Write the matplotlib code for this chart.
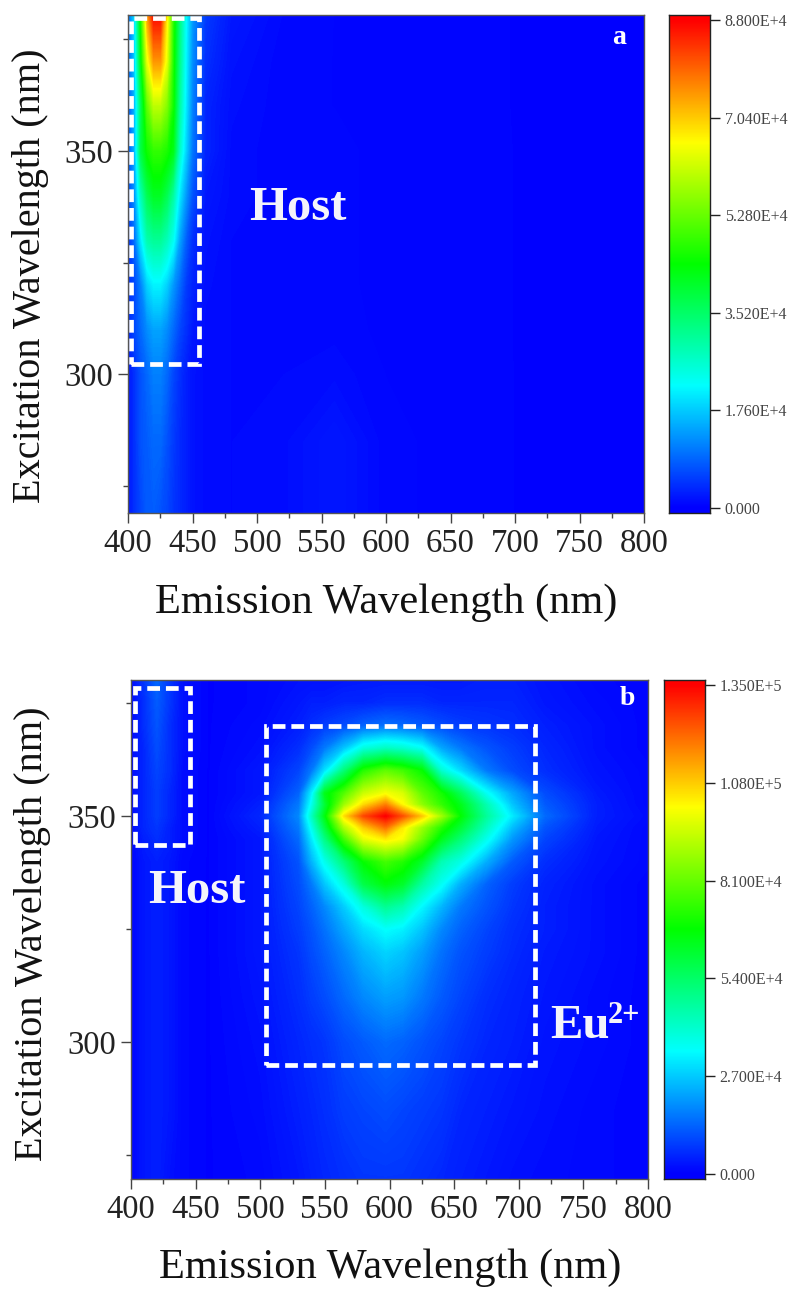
#!/usr/bin/env python3

import numpy as np
import matplotlib
matplotlib.use("Agg")
import matplotlib.pyplot as plt
from matplotlib.colors import LinearSegmentedColormap, Normalize
from matplotlib.patches import Rectangle

plt.rcParams["font.family"] = ["Liberation Serif", "DejaVu Serif"]

W = 793
H = 1293

# intensities are in units of 1000 counts
em_a = [400, 405, 410, 415, 420, 425, 430, 435, 440, 445, 450, 460, 480, 520, 560, 600, 700, 800]
ex_a = [269, 285, 300, 310, 320, 330, 340, 350, 360, 370, 381]
z_a = [
    [1.5, 4, 6, 8, 8, 7, 6, 4.5, 3.5, 2.5, 1.5, 1, .8, 1, 2, .6, .2, 0],
    [1.5, 4, 7, 8, 9, 9, 7, 5, 3.5, 2.5, 1.5, 1, .8, 1, 2, .6, .2, 0],
    [1.5, 4, 7, 9, 11, 11, 9, 6, 4, 2.5, 1.5, 1, .8, .8, 1, .5, .2, 0],
    [3, 6, 9, 12, 14, 14, 12, 9, 6, 4, 2, 1, .8, .6, .7, .4, .2, 0],
    [4, 6, 11, 18, 21, 21, 18, 13, 9, 5, 3, 1.2, .8, .6, .6, .4, .2, 0],
    [4, 9, 20, 29, 31, 31, 28, 23, 14, 8, 4, 1.5, .8, .6, .6, .4, .2, 0],
    [6, 12, 28, 37, 41, 41, 37, 30, 20, 13, 7, 2, 1, .6, .6, .4, .2, 0],
    [7, 15, 38, 45, 48, 48, 46, 42, 27, 18, 10, 3, 1, .6, .6, .4, .2, 0],
    [7, 15, 36, 52, 60, 60, 55, 45, 30, 20, 11, 3, 1.2, .6, .5, .3, .2, 0],
    [8, 17, 42, 64, 75, 75, 64, 46, 32, 21, 12, 4, 1.5, .6, .5, .3, .2, 0],
    [8, 19, 46, 75, 88, 88, 68, 47, 33, 22, 13, 5, 2, .8, .5, .3, .2, 0],
]

em_b = [400, 410, 420, 430, 440, 460, 500, 530, 540, 550, 565, 580, 597, 610, 625, 640, 655, 675, 695, 720, 760, 800]
ex_b = [269, 285, 300, 310, 320, 325, 330, 335, 340, 345, 347.5, 350, 352.5, 355, 360, 365, 370, 375, 381]
z_b = [
    [.5, 3, 4, 2, 1, .3, 1, 3, 4, 5, 6, 7, 7, 7, 6, 5, 4, 3, 2, 1.5, 1, .5],
    [.5, 3, 4, 3, 1, .3, 1.5, 4, 5, 6, 8, 9, 10, 9, 8, 7, 5, 4, 3, 2, 1, .5],
    [.5, 3, 4, 3, 1, .3, 2, 5, 6, 7, 10, 12, 14, 13, 11, 9, 7, 5, 4, 2.5, 1.5, .5],
    [.5, 3, 4, 3, 1, .3, 2.5, 6, 8, 10, 14, 18, 21, 20, 16, 12, 9, 6, 4.5, 3, 1.5, .5],
    [.5, 3, 4, 3, 1, .3, 3, 7, 10, 13, 18, 24, 28, 26, 21, 15, 11, 8, 5.5, 3.5, 2, .5],
    [.5, 3, 4, 3, 1, .3, 3, 8, 11, 15, 22, 29, 34, 32, 26, 18, 13, 9, 6, 4, 2, .5],
    [.5, 3, 4, 3, 1, .3, 3, 9, 13, 18, 27, 38, 48, 44, 33, 24, 16, 11, 7, 4, 2, .5],
    [.5, 3, 4, 3, 1, .3, 3, 10, 16, 26, 38, 58, 66, 62, 46, 35, 23, 13, 8, 4.5, 2, .5],
    [.5, 3, 4, 3, 1, .3, 3, 11, 24, 36, 52, 68, 76, 72, 62, 44, 37, 23, 12, 6, 2.5, 1],
    [1, 4, 6, 4, 1.5, .3, 3, 14, 31, 50, 76, 98, 104, 100, 82, 64, 52, 36, 20, 9, 3, 1],
    [1, 5, 7, 4, 1.5, .3, 4, 16, 36, 58, 90, 108, 120, 104, 88, 72, 60, 42, 25, 11, 3.5, 1],
    [1, 5, 8, 5, 1.5, .3, 5, 18, 42, 65, 105, 125, 135, 124, 108, 88, 67, 47, 31, 14, 4, 1.5],
    [1, 5, 8, 5, 1.5, .3, 4, 16, 36, 60, 88, 106, 118, 102, 86, 74, 64, 44, 26, 12, 4, 1],
    [1, 5, 8, 5, 1.5, .3, 3, 13, 32, 64, 78, 94, 100, 96, 80, 70, 56, 35, 22, 10, 3.5, 1],
    [1, 5, 9, 6, 1.5, .3, 3, 9, 16, 30, 52, 72, 80, 76, 68, 40, 29, 16, 10, 6, 2.5, 1],
    [1, 5, 10, 6, 2, .3, 2, 6, 10, 16, 26, 38, 42, 40, 35, 22, 16, 11, 8, 5, 2, .5],
    [1, 6, 11, 6, 2, .3, 1.5, 4, 6, 8, 10, 13, 15, 14, 12, 10, 8, 7, 6, 4, 2, .5],
    [1, 6, 12, 7, 2, .3, 1, 3, 4, 4, 5, 5, 6, 6, 6, 5, 5, 5, 5, 3, 1.5, .5],
    [1.5, 7, 14, 7, 2, .3, 1, 2, 2, 2, 2.5, 3, 3, 3, 3, 3, 3, 4, 4, 2.5, 1, .3],
]

cbar_ticks_a = [0, 17600, 35200, 52800, 70400, 88000]
cbar_labels_a = ["0.000", "1.760E+4", "3.520E+4", "5.280E+4", "7.040E+4", "8.800E+4"]
cbar_ticks_b = [0, 27000, 54000, 81000, 108000, 135000]
cbar_labels_b = ["0.000", "2.700E+4", "5.400E+4", "8.100E+4", "1.080E+5", "1.350E+5"]

em_ticks = [400, 450, 500, 550, 600, 650, 700, 750, 800]
ex_ticks = [300, 350]
ex_minor = [275, 325, 375]

cmap = LinearSegmentedColormap.from_list("rainbow5", ["#0000ff", "#00ffff", "#00ff00", "#ffff00", "#ff0000"], N=512)


def px_axes(fig, left, top, right, bottom):
    return fig.add_axes([left / W, 1 - bottom / H, (right - left) / W, (bottom - top) / H])


def draw_panel(fig, box, cbox, em, ex, z, ylim, ticks, labels, letter, letter_xy):
    ax = px_axes(fig, *box)
    norm = Normalize(0, ticks[-1])
    z = np.array(z, dtype=float) * 1000
    levels = np.linspace(-1000, ticks[-1] + 1000, 300)
    ax.contourf(em, ex, z, levels=levels, cmap=cmap, norm=norm, antialiased=False)
    ax.set_xlim(400, 800)
    ax.set_ylim(*ylim)
    ax.set_xticks(em_ticks)
    ax.set_xticks(np.array(em_ticks[:-1]) + 25, minor=True)
    ax.set_yticks(ex_ticks)
    ax.set_yticks(ex_minor, minor=True)
    ax.tick_params(which="major", length=7, width=1, labelsize=23.5, color="#444444", labelcolor="#222222", pad=4)
    ax.tick_params(which="minor", length=3.5, width=1, color="#444444")
    for s in ax.spines.values():
        s.set_color("#555555")
        s.set_linewidth(1)
    ax.text(letter_xy[0], letter_xy[1], letter, color="white", fontsize=20, fontweight="bold", ha="center", va="center")

    cax = px_axes(fig, *cbox)
    span = ticks[1] * 0.05
    y0 = -span
    y1 = ticks[-1] + span
    grad = np.linspace(y0, y1, 400).reshape(-1, 1)
    cax.imshow(grad, origin="lower", aspect="auto", cmap=cmap, norm=norm, extent=[0, 1, y0, y1], interpolation="bilinear")
    cax.set_xticks([])
    cax.yaxis.tick_right()
    cax.set_yticks(ticks)
    cax.set_yticklabels(labels)
    cax.tick_params(length=7, width=1, labelsize=11.5, labelcolor="#444444", color="#222222", pad=3.5)
    for s in cax.spines.values():
        s.set_color("#222222")
        s.set_linewidth(1)
    return ax


def dashed_box(ax, x0, y0, x1, y1):
    ax.add_patch(Rectangle((x0, y0), x1 - x0, y1 - y0, fill=False, edgecolor="white", linewidth=3.4, linestyle=(0, (2.7, 1.25)), clip_on=False))


def label(ax, x, y, s, size=35):
    ax.text(x, y, s, color="#f4f4fa", fontsize=size, fontweight="bold", ha="left", va="baseline")


fig = plt.figure(figsize=(W / 100, H / 100), dpi=100)

ax_a = draw_panel(fig, (128, 15, 644, 513), (669, 15, 710, 513), em_a, ex_a, z_a, (269, 380.4),
                  cbar_ticks_a, cbar_labels_a, "a", (780.6, 375.4))
dashed_box(ax_a, 402, 302.4, 455, 379.7)
label(ax_a, 493.8, 334.6, "Host")

ax_b = draw_panel(fig, (131, 680, 648, 1179), (664, 680, 705, 1179), em_b, ex_b, z_b, (269.7, 380.1),
                  cbar_ticks_b, cbar_labels_b, "b", (783.8, 376))
dashed_box(ax_b, 403, 343.6, 445.6, 378.3)
dashed_box(ax_b, 504.4, 294.9, 712.6, 369.9)
label(ax_b, 413, 330.8, "Host")
label(ax_b, 724.2, 300.9, "Eu")
label(ax_b, 769, 304.2, "2+", size=22)

fig.text(386 / W, 1 - 603 / H, "Emission Wavelength (nm)", fontsize=30.5, color="#111111", ha="center", va="center")
fig.text(390 / W, 1 - 1268 / H, "Emission Wavelength (nm)", fontsize=30.5, color="#111111", ha="center", va="center")
fig.text(31 / W, 1 - 276 / H, "Excitation Wavelength (nm)", fontsize=29, color="#111111", rotation=90, ha="center", va="center")
fig.text(33 / W, 1 - 934 / H, "Excitation Wavelength (nm)", fontsize=29, color="#111111", rotation=90, ha="center", va="center")

fig.savefig("out.png", dpi=100)
